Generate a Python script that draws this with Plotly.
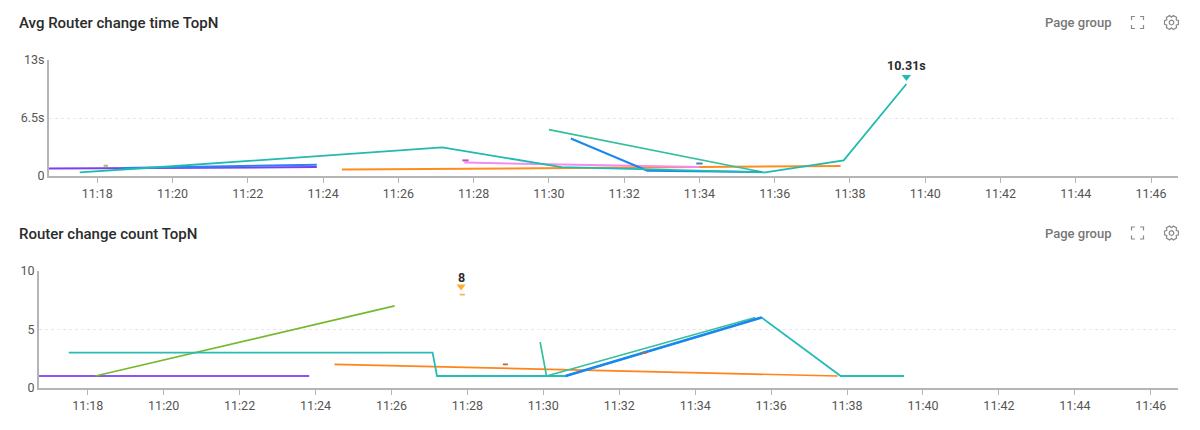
import math
import plotly.graph_objects as go

DAY = "2024-01-01 "
X_RANGE = ["11:16:43", "11:46:43"]
TICK_TIMES = ["11:18", "11:20", "11:22", "11:24", "11:26", "11:28", "11:30", "11:32",
              "11:34", "11:36", "11:38", "11:40", "11:42", "11:44", "11:46"]

# ---- Avg Router change time (seconds)
t_purple_t = ["11:16:43", "11:23:50"]
t_purple_v = [0.85, 1.0]
t_blue2_t = ["11:18:40", "11:23:50"]
t_blue2_v = [0.9, 1.25]
t_orange_t = ["11:24:30", "11:30:00", "11:37:45"]
t_orange_v = [0.72, 0.9, 1.12]
t_pink_t = ["11:27:45", "11:34:00"]
t_pink_v = [1.5, 1.0]
t_green_t = ["11:30:00", "11:35:40"]
t_green_v = [5.2, 0.45]
t_blue_t = ["11:30:35", "11:32:37", "11:35:40"]
t_blue_v = [4.2, 0.6, 0.45]
t_teal_t = ["11:17:32", "11:19:30", "11:27:10", "11:30:20", "11:32:40", "11:35:45", "11:37:50", "11:39:30"]
t_teal_v = [0.4, 0.95, 3.2, 1.0, 0.75, 0.4, 1.75, 10.31]
t_dash1_t = ["11:18:10", "11:18:17"]
t_dash1_v = [1.15, 1.15]
t_dash2_t = ["11:27:42", "11:27:52"]
t_dash2_v = [1.75, 1.75]
t_dash3_t = ["11:33:55", "11:34:05"]
t_dash3_v = [1.4, 1.4]
t_peak_t = "11:39:30"
t_peak_value = 10.31
t_peak_marker = [11.1]
t_peak_label = "10.31s"

# ---- Router change count
c_purple_t = ["11:16:43", "11:23:50"]
c_purple_v = [1, 1]
c_lime_t = ["11:18:12", "11:26:05"]
c_lime_v = [1, 7]
c_orange_t = ["11:24:30", "11:37:45"]
c_orange_v = [2, 1]
c_green_t = ["11:29:55", "11:30:05", "11:35:35"]
c_green_v = [3.9, 1, 6]
c_teal_t = ["11:17:30", "11:27:05", "11:27:12", "11:30:35", "11:35:45", "11:37:50", "11:39:30"]
c_teal_v = [3, 3, 1, 1, 6, 1, 1]
c_blue_t = ["11:30:35", "11:35:45"]
c_blue_v = [1, 6]
c_dash1_t = ["11:27:48", "11:27:56"]
c_dash1_v = [7.95, 7.95]
c_dash2_t = ["11:28:56", "11:29:04"]
c_dash2_v = [2, 2]
c_dash3_t = ["11:32:36", "11:32:44"]
c_dash3_v = [3, 3]
c_peak_t = "11:27:50"
c_peak_value = 8
c_peak_marker = [8.65]
c_peak_label = "8"

W, H = 1200, 430
FONT = "Roboto"


def ts(values):
    return [DAY + v for v in values]


fig = go.Figure()


def line(times, vals, color, width, axis):
    fig.add_trace(go.Scatter(x=ts(times), y=vals, mode="lines", xaxis="x" + axis, yaxis="y" + axis,
                             line=dict(color=color, width=width, shape="linear"),
                             showlegend=False, hoverinfo="skip"))


def peak(time, vals, color, axis):
    fig.add_trace(go.Scatter(x=ts([time]), y=vals, mode="markers", xaxis="x" + axis, yaxis="y" + axis,
                             marker=dict(symbol="triangle-down", size=8, color=color, line=dict(width=0)),
                             cliponaxis=False, showlegend=False, hoverinfo="skip"))


line(t_purple_t, t_purple_v, "#7b3ff2", 2, "")
line(t_blue2_t, t_blue2_v, "#2f80f5", 2, "")
line(t_orange_t, t_orange_v, "#ff8c1f", 2, "")
line(t_pink_t, t_pink_v, "#f28cf0", 2, "")
line(t_green_t, t_green_v, "#35bf9c", 1.7, "")
line(t_blue_t, t_blue_v, "#1a87f0", 2, "")
line(t_teal_t, t_teal_v, "#1fbbb0", 1.8, "")
line(t_dash1_t, t_dash1_v, "#a8bf45", 2, "")
line(t_dash2_t, t_dash2_v, "#c04fc4", 2, "")
line(t_dash3_t, t_dash3_v, "#4d80b8", 2, "")
peak(t_peak_t, t_peak_marker, "#1fbbb0", "")

line(c_purple_t, c_purple_v, "#8b55f5", 2, "2")
line(c_lime_t, c_lime_v, "#76b82f", 1.7, "2")
line(c_orange_t, c_orange_v, "#ff8419", 1.7, "2")
line(c_green_t, c_green_v, "#35bf9c", 1.7, "2")
line(c_teal_t, c_teal_v, "#27bdb6", 1.8, "2")
line(c_blue_t, c_blue_v, "#1a87f0", 2.8, "2")
line(c_dash1_t, c_dash1_v, "#ffb14a", 1.7, "2")
line(c_dash2_t, c_dash2_v, "#c0604a", 1.7, "2")
line(c_dash3_t, c_dash3_v, "#c0604a", 1.7, "2")
peak(c_peak_t, c_peak_marker, "#ffad33", "2")


def px(x):
    return x / W


def py(y):
    return 1 - y / H


def xaxis(anchor, left):
    return dict(domain=[px(left), px(1178)], anchor=anchor, type="date",
                range=ts(X_RANGE), tickmode="array", tickvals=ts([t + ":00" for t in TICK_TIMES]),
                ticktext=TICK_TIMES, ticks="outside", ticklen=5, tickwidth=1, tickcolor="#b5b5b5",
                showgrid=False, showline=True, linewidth=2, linecolor="#b5b5b5", zeroline=False,
                tickfont=dict(family=FONT, size=12.5, color="#555555"), fixedrange=True)


def yaxis(anchor, top, bottom, rng, vals, labels):
    return dict(domain=[py(bottom), py(top)], anchor=anchor, range=rng, tickmode="array",
                tickvals=vals, ticktext=labels, ticks="", showline=True, linewidth=2, linecolor="#b5b5b5",
                showgrid=True, gridcolor="#e8e8e8", griddash="dot", gridwidth=1, zeroline=False,
                tickfont=dict(family=FONT, size=12.5, color="#555555"), fixedrange=True)


annotations = []
for title, y in [("Avg Router change time TopN", 23), ("Router change count TopN", 234)]:
    annotations.append(dict(text=title, x=px(17), y=py(y), xref="paper", yref="paper", xanchor="left",
                            yanchor="middle", showarrow=False,
                            font=dict(family=FONT, size=15, color="#2b2b2b", weight=500)))
    annotations.append(dict(text="Page group", x=px(1078), y=py(y - 0.5), xref="paper", yref="paper",
                            xanchor="center", yanchor="middle", showarrow=False,
                            font=dict(family=FONT, size=13, color="#777777", weight=500)))

for label, t, v, xr, yr, shift in [(t_peak_label, t_peak_t, t_peak_value, "x", "y", 19),
                                   (c_peak_label, c_peak_t, c_peak_value, "x2", "y2", 17)]:
    annotations.append(dict(text=label, x=DAY + t, y=v, xref=xr, yref=yr, yshift=shift, showarrow=False,
                            xanchor="center", yanchor="middle",
                            font=dict(family=FONT, size=12.5, color="#2b2b2b", weight=700)))


def poly(points, close=True):
    s = "M " + " L ".join(f"{px(a):.5f},{py(b):.5f}" for a, b in points)
    return s + (" Z" if close else "")


ICON = dict(type="path", xref="paper", yref="paper", line=dict(color="#8a8a8a", width=1.2))
shapes = []
for cy in (22.5, 233):
    x0, x1, y0, y1 = 1131.5, 1143.5, cy - 6, cy + 6
    c = 3.5
    for p in ([(x0, y0 + c), (x0, y0), (x0 + c, y0)], [(x1 - c, y0), (x1, y0), (x1, y0 + c)],
              [(x0, y1 - c), (x0, y1), (x0 + c, y1)], [(x1 - c, y1), (x1, y1), (x1, y1 - c)]):
        shapes.append(dict(ICON, path=poly(p, close=False)))
    gear = []
    for k in range(6):
        a = math.radians(60 * k + 30)
        for d, r in ((-15, 7.2), (15, 7.2), (30, 5.4)):
            gear.append((1171.5 + r * math.sin(a + math.radians(d)), cy - r * math.cos(a + math.radians(d))))
    shapes.append(dict(ICON, path=poly(gear)))
    ring = [(1171.5 + 2.3 * math.cos(math.radians(a)), cy + 2.3 * math.sin(math.radians(a))) for a in range(0, 360, 30)]
    shapes.append(dict(ICON, path=poly(ring)))

fig.update_layout(
    width=W, height=H, margin=dict(l=0, r=0, t=0, b=0, autoexpand=False), paper_bgcolor="white", plot_bgcolor="white",
    showlegend=False, annotations=annotations, shapes=shapes,
    xaxis=xaxis("y", 49), yaxis=yaxis("x", 60, 176, [0, 13], [0, 6.5, 13], ["0", "6.5s", "13s"]),
    xaxis2=xaxis("y2", 39), yaxis2=yaxis("x2", 270.7, 387.7, [0, 10], [0, 5, 10], ["0", "5", "10"]),
)

fig.write_html("out.html", config={"displayModeBar": False},
               post_script="document.body.style.margin='0';document.body.style.overflow='hidden';")
